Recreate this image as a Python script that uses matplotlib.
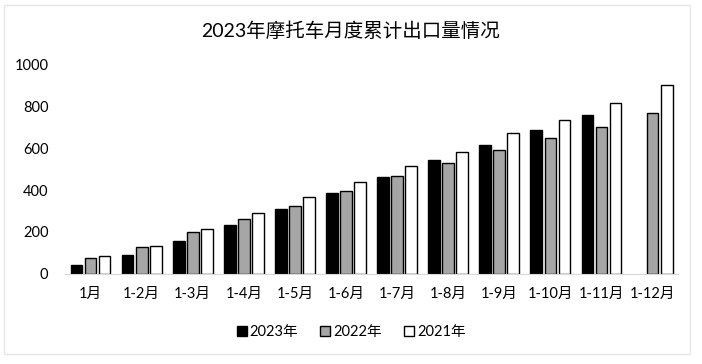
import numpy as np
import matplotlib
matplotlib.use("Agg")
from matplotlib import pyplot as plt

plt.rcParams['font.family'] = ['Lato', 'Noto Sans CJK SC', 'DejaVu Sans']

months = ["1月", "1-2月", "1-3月", "1-4月", "1-5月", "1-6月",
          "1-7月", "1-8月", "1-9月", "1-10月", "1-11月", "1-12月"]
y2023 = [41, 92, 157, 232, 308, 387, 463, 541, 613, 684, 757, np.nan]
y2022 = [75, 129, 198, 260, 324, 394, 465, 527, 590, 646, 698, 767]
y2021 = [84, 132, 213, 289, 367, 436, 513, 579, 670, 732, 814, 900]
series = ["2023年", "2022年", "2021年"]

fig = plt.figure(figsize=(7.02, 3.64), dpi=100)
ax = fig.add_axes([0.0926, 0.2473, 0.8734, 0.5767])

x = np.arange(len(months))
w = 0.23
step = 0.275
colors = ["black", "#a6a6a6", "white"]
for i, (vals, c, lab) in enumerate(zip([y2023, y2022, y2021], colors, series)):
    ax.bar(x + (i - 1) * step, vals, w, color=c, edgecolor="black", linewidth=1.0, label=lab)

ax.set_xlim(-0.5, len(months) - 0.5)
ax.set_ylim(0, 1000)
ax.set_yticks(np.arange(0, 1001, 200))
ax.set_xticks(x)
ax.set_xticklabels(months)
ax.tick_params(axis="both", length=0, labelsize=10.5)
ax.tick_params(axis="x", pad=9)
ax.tick_params(axis="y", pad=12)
for s in ["top", "right", "left"]:
    ax.spines[s].set_visible(False)
ax.spines["bottom"].set_color("#d9d9d9")

fig.text(0.5, 0.915, "2023年摩托车月度累计出口量情况", ha="center", va="center", fontsize=14)
fig.legend(loc="center", bbox_to_anchor=(0.5, 0.088), ncol=3, frameon=False,
           handlelength=0.7, handleheight=0.7, handletextpad=0.2, columnspacing=1.5,
           fontsize=10.5)

# light chart border
fig.patches.append(plt.Rectangle((0.0057, 0.0275), 0.977, 0.958, transform=fig.transFigure,
                                 fill=False, edgecolor="#e6e6e6", linewidth=1))
fig.savefig("out.png", dpi=100)
